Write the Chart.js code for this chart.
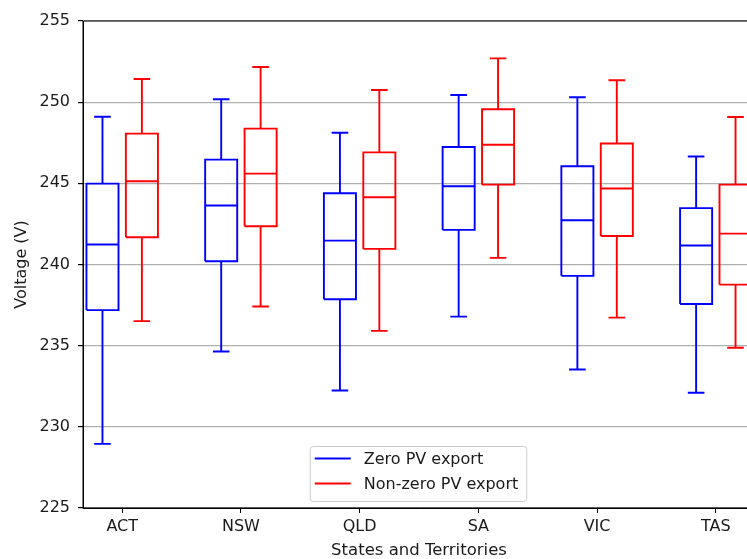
<!DOCTYPE html>
<html>
<head>
<meta charset="utf-8">
<script src="https://cdn.jsdelivr.net/npm/chart.js@4.4.0/dist/chart.umd.min.js"></script>
<style>
  html, body { margin: 0; padding: 0; background: #fff; }
  #wrap { width: 747px; height: 559px; overflow: hidden; }
</style>
</head>
<body>
<div id="wrap"><canvas id="voltChart" width="775" height="559"></canvas></div>
<script>
var categories = ['ACT', 'NSW', 'QLD', 'SA', 'VIC', 'TAS']

// zero PV export: whisker low, Q1, median, Q3, whisker high
var zeroLow  = [228.95, 234.64, 232.24, 236.79, 233.53, 232.10]
var zeroQ1   = [237.19, 240.20, 237.86, 242.13, 239.30, 237.57]
var zeroMed  = [241.23, 243.63, 241.47, 244.82, 242.73, 241.17]
var zeroQ3   = [244.98, 246.46, 244.39, 247.24, 246.05, 243.47]
var zeroHigh = [249.10, 250.18, 248.12, 250.44, 250.30, 246.65]

// non-zero PV export
var nonzeroLow  = [236.51, 237.41, 235.91, 240.41, 236.73, 234.87]
var nonzeroQ1   = [241.68, 242.36, 240.96, 244.92, 241.76, 238.76]
var nonzeroMed  = [245.13, 245.60, 244.14, 247.38, 244.68, 241.90]
var nonzeroQ3   = [248.06, 248.37, 246.91, 249.56, 247.45, 244.92]
var nonzeroHigh = [251.43, 252.17, 250.75, 252.70, 251.35, 249.09]

var yTicks = [225, 230, 235, 240, 245, 250, 255]

var boxHalf = 0.135   // half box width in category units
var capHalf = 0.07
var groupShift = 0.166

// turn five-number summaries into one broken polyline per series
function boxLines(low, q1, med, q3, high, shift) {
    var pts = []
    for (var i = 0; i < categories.length; i++) {
        var c = i + shift
        var gap = {x: c, y: null}
        pts.push({x: c - boxHalf, y: q1[i]}, {x: c + boxHalf, y: q1[i]},
                 {x: c + boxHalf, y: q3[i]}, {x: c - boxHalf, y: q3[i]},
                 {x: c - boxHalf, y: q1[i]}, gap)
        pts.push({x: c - boxHalf, y: med[i]}, {x: c + boxHalf, y: med[i]}, gap)
        pts.push({x: c, y: q1[i]}, {x: c, y: low[i]}, gap)
        pts.push({x: c, y: q3[i]}, {x: c, y: high[i]}, gap)
        pts.push({x: c - capHalf, y: low[i]}, {x: c + capHalf, y: low[i]}, gap)
        pts.push({x: c - capHalf, y: high[i]}, {x: c + capHalf, y: high[i]}, gap)
    }
    return pts
}

// top/right spines
var framePlugin = {
    id: 'frame',
    afterDatasetsDraw: function(chart) {
        var a = chart.chartArea
        var ctx = chart.ctx
        ctx.save()
        ctx.strokeStyle = '#000'
        ctx.lineWidth = 1
        ctx.strokeRect(a.left, a.top, a.right - a.left, a.bottom - a.top)
        ctx.restore()
    }
}

// legend box sitting inside the plot, bottom centre
var insideLegend = {
    id: 'insideLegend',
    afterDraw: function(chart) {
        var ctx = chart.ctx
        var a = chart.chartArea
        var sets = chart.data.datasets
        ctx.save()
        ctx.font = '16px "DejaVu Sans"'
        var textW = 0
        sets.forEach(function(ds) { textW = Math.max(textW, ctx.measureText(ds.label).width) })
        var lineLen = 36, padL = 5, gapT = 13, padR = 8, rowH = 25
        var w = padL + lineLen + gapT + textW + padR
        var h = 55
        var x = (a.left + a.right) / 2 - w / 2 - 1
        var y = a.bottom - 7 - h
        ctx.beginPath()
        ctx.roundRect(x + 0.5, y + 0.5, w, h, 3)
        ctx.fillStyle = 'rgba(255,255,255,0.8)'
        ctx.fill()
        ctx.strokeStyle = '#cccccc'
        ctx.lineWidth = 1
        ctx.stroke()
        sets.forEach(function(ds, k) {
            var ly = y + 12.5 + k * rowH
            ctx.beginPath()
            ctx.moveTo(x + padL, ly)
            ctx.lineTo(x + padL + lineLen, ly)
            ctx.strokeStyle = ds.borderColor
            ctx.lineWidth = 2
            ctx.stroke()
            ctx.fillStyle = '#1a1a1a'
            ctx.textBaseline = 'middle'
            ctx.textAlign = 'left'
            ctx.fillText(ds.label, x + padL + lineLen + gapT, ly + 1)
        })
        ctx.restore()
    }
}

Chart.defaults.font.family = 'DejaVu Sans'
Chart.defaults.font.size = 16
Chart.defaults.color = '#1a1a1a'

var ctx = document.getElementById('voltChart').getContext('2d')
var voltChart = new Chart(ctx, {
    type: 'line',
    data: {
        datasets: [{
            label: 'Zero PV export',
            data: boxLines(zeroLow, zeroQ1, zeroMed, zeroQ3, zeroHigh, -groupShift),
            borderColor: '#0000ff',
            borderWidth: 1.9,
            pointRadius: 0,
            fill: false,
            spanGaps: false,
            tension: 0
        }, {
            label: 'Non-zero PV export',
            data: boxLines(nonzeroLow, nonzeroQ1, nonzeroMed, nonzeroQ3, nonzeroHigh, groupShift),
            borderColor: '#ff0000',
            borderWidth: 1.9,
            pointRadius: 0,
            fill: false,
            spanGaps: false,
            tension: 0
        }]
    },
    options: {
        responsive: false,
        animation: false,
        devicePixelRatio: 1,
        layout: { padding: { left: 0, top: 21, right: 20, bottom: 0 } },
        scales: {
            x: {
                type: 'linear',
                min: -0.33,
                max: 5.33,
                afterBuildTicks: function(scale) {
                    scale.ticks = categories.map(function(c, i) { return {value: i} })
                },
                afterFit: function(scale) { scale.height = 51 },
                ticks: {
                    autoSkip: false,
                    maxRotation: 0,
                    padding: 4,
                    callback: function(v) { return categories[v] }
                },
                grid: { drawOnChartArea: false, drawTicks: true, tickLength: 5, tickColor: '#000' },
                border: { color: '#000', width: 1 },
                title: {
                    display: true,
                    text: 'States and Territories',
                    font: { size: 16.5, lineHeight: 1 },
                    padding: { top: 0, bottom: 0 }
                }
            },
            y: {
                min: 225,
                max: 255,
                afterBuildTicks: function(scale) {
                    scale.ticks = yTicks.map(function(v) { return {value: v} })
                },
                afterFit: function(scale) { scale.width = 83 },
                ticks: { padding: 8 },
                grid: { color: '#b0b0b0', lineWidth: 1.2, tickLength: 5, tickColor: '#000' },
                border: { color: '#000', width: 1 },
                title: {
                    display: true,
                    text: 'Voltage (V)',
                    font: { size: 16, lineHeight: 1 },
                    padding: { top: 14, bottom: 0 }
                }
            }
        },
        plugins: {
            legend: { display: false },
            tooltip: { enabled: false }
        }
    },
    plugins: [framePlugin, insideLegend]
})
</script>
</body>
</html>
